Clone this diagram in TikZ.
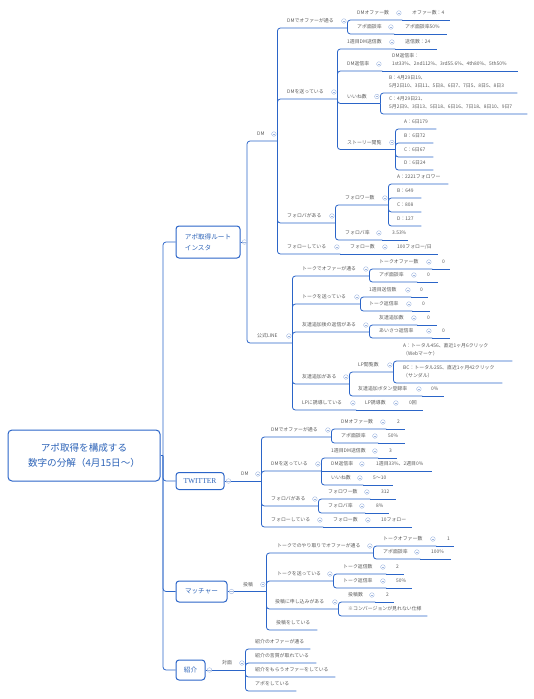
\documentclass[tikz,border=0pt]{standalone}
\usepackage{fontspec}
\setmainfont{Noto Sans CJK JP}
\newfontfamily\twfont{Liberation Serif}
\definecolor{linkblue}{HTML}{2B65C8}
\definecolor{foldblue}{HTML}{9FB6E0}
\definecolor{topicgray}{HTML}{5A5A5A}
\definecolor{boxblue}{HTML}{2E64B8}

\begin{document}
\begin{tikzpicture}[x=1pt, y=-1pt,
  link/.style={draw=linkblue, line width=0.8pt, rounded corners=3pt},
  topic/.style={anchor=south west, inner xsep=0pt, inner ysep=2.8pt, align=left, text=topicgray, font=\fontsize{4.9}{8}\selectfont, execute at begin node=\strut, execute at end node=\strut},
  fold/.style={circle, draw=foldblue, fill=white, line width=0.4pt, minimum size=4.6pt, inner sep=0pt, path picture={\draw[foldblue, line width=0.4pt] ([xshift=-1.2pt]path picture bounding box.center) -- ([xshift=1.2pt]path picture bounding box.center);}},
  mainbox/.style={draw=linkblue, fill=white, rounded corners=3pt, line width=1pt, text=boxblue, inner sep=0pt, font=\fontsize{6.6}{11}\selectfont},
  rootbox/.style={draw=linkblue, fill=white, rounded corners=4pt, line width=1pt, text=boxblue, align=center, minimum width=152pt, minimum height=51pt, font=\fontsize{9.6}{15.7}\selectfont}
]
\useasboundingbox (0,0) rectangle (534,699);

% root and routes
\node[rootbox] (root) at (84,455.5) {アポ取得を構成する\\数字の分解（4月15日〜）};
\node[mainbox, align=left, minimum width=64pt, minimum height=32pt] (insta) at (208,242) {アポ取得ルート\\インスタ};
\node[mainbox, minimum width=48pt, minimum height=17pt] (twitter) at (200,481) {\twfont\fontsize{7.5}{9}\selectfont TWITTER};
\node[mainbox, minimum width=51pt, minimum height=21pt] (matcher) at (201.5,591.5) {マッチャー};
\node[mainbox, minimum width=29pt, minimum height=20pt] (shokai) at (190.5,670) {紹介};

% instagram
\node[topic, text width=20pt] (igDM) at (257,141) {DM};
\node[topic, text width=35pt] (igLine) at (257,343) {公式LINE};
\node[topic, text width=60pt] (igDMOffer) at (287,28) {DMでオファーが通る};
\node[topic, text width=45pt] (igDMOfferNum) at (357,20) {DMオファー数};
\node[topic, text width=38pt] (igDMOfferVal) at (412,20) {オファー数：4};
\node[topic, text width=37pt] (igDMApo) at (357,34) {アポ面談率};
\node[topic, text width=42pt] (igDMApoVal) at (405,34) {アポ面談率50\%};
\node[topic, text width=50pt] (igDMSend) at (287,99) {DMを送っている};
\node[topic, text width=48pt] (igDMSent) at (347,49) {1週目DM送信数};
\node[topic, text width=32pt] (igDMSentVal) at (405,49) {送信数：24};
\node[topic, text width=35pt] (igDMReply) at (347,71) {DM返信率};
\node[topic, text width=126pt] (igDMReplyVal) at (392,71) {DM返信率：\\1st33\%、2nd112\%、3rd55.6\%、4th80\%、5th50\%};
\node[topic, text width=33pt] (igLike) at (347,103.5) {いいね数};
\node[topic, text width=128pt] (igLikeB) at (389,93) {B：4月29日19、\\5月2日10、3日11、5日8、6日7、7日5、8日5、8日3};
\node[topic, text width=138pt] (igLikeC) at (389,114) {C：4月29日21、\\5月2日9、3日13、5日18、6日16、7日18、8日10、9日7};
\node[topic, text width=48pt] (igStory) at (347,149.5) {ストーリー閲覧};
\node[topic, text width=32pt] (igStoryA) at (404,129) {A：6日179};
\node[topic, text width=29pt] (igStoryB) at (404,143) {B：6日72};
\node[topic, text width=29pt] (igStoryC) at (404,157) {C：6日67};
\node[topic, text width=29pt] (igStoryD) at (404,170) {D：6日24};
\node[topic, text width=48pt] (igFB) at (287,223) {フォロバがある};
\node[topic, text width=43pt] (igFollower) at (345,205) {フォロワー数};
\node[topic, text width=51pt] (igFollowerA) at (397,184) {A：2221フォロワー};
\node[topic, text width=24pt] (igFollowerB) at (397,198) {B：649};
\node[topic, text width=24pt] (igFollowerC) at (397,212) {C：808};
\node[topic, text width=24pt] (igFollowerD) at (397,226) {D：127};
\node[topic, text width=37pt] (igFBRate) at (345,240) {フォロバ率};
\node[topic, text width=16pt] (igFBRateVal) at (392,240) {3.53\%};
\node[topic, text width=53pt] (igFollowing) at (287,254) {フォローしている};
\node[topic, text width=38pt] (igFollowNum) at (350,254) {フォロー数};
\node[topic, text width=41pt] (igFollowNumVal) at (397,254) {100フォロー/日};

% official LINE
\node[topic, text width=67pt] (lnOffer) at (302,276) {トークでオファーが通る};
\node[topic, text width=53pt] (lnOfferNum) at (379,269) {トークオファー数};
\node[topic, text width=8pt] (lnOfferVal) at (442,269) {0};
\node[topic, text width=38pt] (lnApo) at (379,282) {アポ面談率};
\node[topic, text width=11pt] (lnApoVal) at (427,282) {0};
\node[topic, text width=58pt] (lnTalk) at (302,304) {トークを送っている};
\node[topic, text width=42pt] (lnSent) at (369,297) {1週目送信数};
\node[topic, text width=8pt] (lnSentVal) at (420,297) {0};
\node[topic, text width=43pt] (lnReply) at (369,311) {トーク返信率};
\node[topic, text width=8pt] (lnReplyVal) at (422,311) {0};
\node[topic, text width=67pt] (lnFriendReply) at (302,332) {友達追加後の返信がある};
\node[topic, text width=38pt] (lnFriendNum) at (379,325) {友達追加数};
\node[topic, text width=10pt] (lnFriendNumVal) at (427,325) {0};
\node[topic, text width=53pt] (lnGreet) at (379,338) {あいさつ返信率};
\node[topic, text width=8pt] (lnGreetVal) at (442,338) {0};
\node[topic, text width=47pt] (lnFriend) at (302,384) {友達追加がある};
\node[topic, text width=35pt] (lnLP) at (358,372) {LP閲覧数};
\node[topic, text width=109pt] (lnLPA) at (403,361) {A：トータル456、直近1ヶ月6クリック\\（Webマーケ）};
\node[topic, text width=99pt] (lnLPBC) at (403,383) {BC：トータル255、直近1ヶ月42クリック\\（サンダル）};
\node[topic, text width=64pt] (lnButton) at (358,396) {友達追加ボタン登録率};
\node[topic, text width=13pt] (lnButtonVal) at (431,396) {0\%};
\node[topic, text width=54pt] (lnGuide) at (302,410) {LPに誘導している};
\node[topic, text width=34pt] (lnGuideNum) at (365,410) {LP誘導数};
\node[topic, text width=14pt] (lnGuideVal) at (409,410) {0回};

% twitter
\node[topic, text width=20pt] (twDM) at (241,481) {DM};
\node[topic, text width=60pt] (twOffer) at (271,437) {DMでオファーが通る};
\node[topic, text width=45pt] (twOfferNum) at (341,429) {DMオファー数};
\node[topic, text width=8pt] (twOfferVal) at (397,429) {2};
\node[topic, text width=37pt] (twApo) at (341,443) {アポ面談率};
\node[topic, text width=17pt] (twApoVal) at (388,443) {50\%};
\node[topic, text width=50pt] (twSend) at (271,471) {DMを送っている};
\node[topic, text width=47pt] (twSent) at (331,458) {1週目DM送信数};
\node[topic, text width=8pt] (twSentVal) at (389,458) {3};
\node[topic, text width=34pt] (twReply) at (331,471) {DM返信率};
\node[topic, text width=56pt] (twReplyVal) at (376,471) {1週目33\%、2週目0\%};
\node[topic, text width=32pt] (twLike) at (331,485) {いいね数};
\node[topic, text width=20pt] (twLikeVal) at (373,485) {5〜10};
\node[topic, text width=47pt] (twFB) at (271,506) {フォロバがある};
\node[topic, text width=42pt] (twFollower) at (328,499) {フォロワー数};
\node[topic, text width=15pt] (twFollowerVal) at (381,499) {312};
\node[topic, text width=37pt] (twFBRate) at (328,513) {フォロバ率};
\node[topic, text width=13pt] (twFBRateVal) at (376,513) {8\%};
\node[topic, text width=52pt] (twFollowing) at (271,527) {フォローしている};
\node[topic, text width=38pt] (twFollowNum) at (333,527) {フォロー数};
\node[topic, text width=31pt] (twFollowNumVal) at (381,527) {10フォロー};

% matcher
\node[topic, text width=23pt] (mtPost) at (243,591.5) {投稿};
\node[topic, text width=96pt] (mtOffer) at (277,553) {トークでのやり取りでオファーが通る};
\node[topic, text width=53pt] (mtOfferNum) at (383,546) {トークオファー数};
\node[topic, text width=7pt] (mtOfferVal) at (447,546) {1};
\node[topic, text width=37pt] (mtApo) at (383,559) {アポ面談率};
\node[topic, text width=20pt] (mtApoVal) at (431,559) {100\%};
\node[topic, text width=56pt] (mtTalk) at (277,581) {トークを送っている};
\node[topic, text width=43pt] (mtReplyNum) at (343,574) {トーク返信数};
\node[topic, text width=8pt] (mtReplyNumVal) at (396,574) {2};
\node[topic, text width=43pt] (mtReplyRate) at (343,588) {トーク返信率};
\node[topic, text width=16pt] (mtReplyRateVal) at (396,588) {50\%};
\node[topic, text width=63pt] (mtApply) at (275,609) {投稿に申し込みがある};
\node[topic, text width=27pt] (mtPostNum) at (348,602) {投稿数};
\node[topic, text width=8pt] (mtPostNumVal) at (386,602) {2};
\node[topic, text width=79pt] (mtNote) at (348,616) {※コンバージョンが見れない仕様};
\node[topic, text width=41pt] (mtPosting) at (276,630) {投稿をしている};

% introduction
\node[topic, text width=23pt] (shFace) at (222,670) {対面};
\node[topic, text width=55pt] (shOffer) at (255,649) {紹介のオファーが通る};
\node[topic, text width=61pt] (shPromise) at (255,663) {紹介の言質が取れている};
\node[topic, text width=80pt] (shAsk) at (255,677) {紹介をもらうオファーをしている};
\node[topic, text width=41pt] (shApo) at (255,691) {アポをしている};

% connectors
\coordinate (rootJ) at (163,455.5);
\draw[link] (root.east) -- (rootJ);
\foreach \c in {insta,twitter,matcher,shokai} \draw[link] (rootJ) |- (\c.west);
\coordinate (instaJ) at (247,242);
\draw[link] (insta.east) -- (instaJ);
\foreach \c in {igDM,igLine} \draw[link] (instaJ) |- (\c.south east);
\foreach \c in {igDMOffer,igDMSend,igFB,igFollowing} \draw[link] (igDM.south east) |- (\c.south east);
\foreach \c in {igDMOfferNum,igDMApo} \draw[link] (igDMOffer.south east) |- (\c.south east);
\foreach \c in {igDMSent,igDMReply,igLike,igStory} \draw[link] (igDMSend.south east) |- (\c.south east);
\foreach \c in {igLikeB,igLikeC} \draw[link] (igLike.south east) |- (\c.south east);
\foreach \c in {igStoryA,igStoryB,igStoryC,igStoryD} \draw[link] (igStory.south east) |- (\c.south east);
\foreach \c in {igFollower,igFBRate} \draw[link] (igFB.south east) |- (\c.south east);
\foreach \c in {igFollowerA,igFollowerB,igFollowerC,igFollowerD} \draw[link] (igFollower.south east) |- (\c.south east);
\foreach \c in {lnOffer,lnTalk,lnFriendReply,lnFriend,lnGuide} \draw[link] (igLine.south east) |- (\c.south east);
\foreach \c in {lnOfferNum,lnApo} \draw[link] (lnOffer.south east) |- (\c.south east);
\foreach \c in {lnSent,lnReply} \draw[link] (lnTalk.south east) |- (\c.south east);
\foreach \c in {lnFriendNum,lnGreet} \draw[link] (lnFriendReply.south east) |- (\c.south east);
\foreach \c in {lnLP,lnButton} \draw[link] (lnFriend.south east) |- (\c.south east);
\foreach \c in {lnLPA,lnLPBC} \draw[link] (lnLP.south east) |- (\c.south east);
\foreach \c in {twOffer,twSend,twFB,twFollowing} \draw[link] (twDM.south east) |- (\c.south east);
\foreach \c in {twOfferNum,twApo} \draw[link] (twOffer.south east) |- (\c.south east);
\foreach \c in {twSent,twLike} \draw[link] (twSend.south east) |- (\c.south east);
\foreach \c in {twFollower,twFBRate} \draw[link] (twFB.south east) |- (\c.south east);
\foreach \c in {mtOffer,mtTalk,mtApply,mtPosting} \draw[link] (mtPost.south east) |- (\c.south east);
\foreach \c in {mtOfferNum,mtApo} \draw[link] (mtOffer.south east) |- (\c.south east);
\foreach \c in {mtReplyNum,mtReplyRate} \draw[link] (mtTalk.south east) |- (\c.south east);
\foreach \c in {mtPostNum,mtNote} \draw[link] (mtApply.south east) |- (\c.south east);
\foreach \c in {shOffer,shPromise,shAsk,shApo} \draw[link] (shFace.south east) |- (\c.south east);
\draw[link] (twitter.east) -- (twDM.south east);
\draw[link] (matcher.east) -- (mtPost.south east);
\draw[link] (shokai.east) -- (shFace.south east);
\foreach \a/\b in {igDMOfferNum/igDMOfferVal, igDMApo/igDMApoVal, igDMSent/igDMSentVal, igDMReply/igDMReplyVal, igFBRate/igFBRateVal, igFollowing/igFollowNum, igFollowNum/igFollowNumVal,
  lnOfferNum/lnOfferVal, lnApo/lnApoVal, lnSent/lnSentVal, lnReply/lnReplyVal, lnFriendNum/lnFriendNumVal, lnGreet/lnGreetVal, lnButton/lnButtonVal, lnGuide/lnGuideNum, lnGuideNum/lnGuideVal,
  twOfferNum/twOfferVal, twApo/twApoVal, twSend/twReply, twSent/twSentVal, twReply/twReplyVal, twLike/twLikeVal, twFollower/twFollowerVal, twFBRate/twFBRateVal, twFollowing/twFollowNum, twFollowNum/twFollowNumVal,
  mtOfferNum/mtOfferVal, mtApo/mtApoVal, mtReplyNum/mtReplyNumVal, mtReplyRate/mtReplyRateVal, mtPostNum/mtPostNumVal}
  \draw[link] (\a.south east) -- (\b.south east);

% fold marks
\foreach \n in {insta,twitter,matcher,shokai} \node[fold] (fold-\n) at ([xshift=4pt]\n.east) {};
\foreach \n in {igDM,igLine,igDMOffer,igDMOfferNum,igDMApo,igDMSend,igDMSent,igDMReply,igLike,igStory,igFB,igFollower,igFBRate,igFollowing,igFollowNum,
  lnOffer,lnOfferNum,lnApo,lnTalk,lnSent,lnReply,lnFriendReply,lnFriendNum,lnGreet,lnFriend,lnLP,lnButton,lnGuide,lnGuideNum,
  twDM,twOffer,twOfferNum,twApo,twSend,twSent,twReply,twLike,twFB,twFollower,twFBRate,twFollowing,twFollowNum,
  mtPost,mtOffer,mtOfferNum,mtApo,mtTalk,mtReplyNum,mtReplyRate,mtApply,mtPostNum,shFace}
  \node[fold] (fold-\n) at ([xshift=-3.5pt,yshift=7pt]\n.south east) {};
\end{tikzpicture}
\end{document}
